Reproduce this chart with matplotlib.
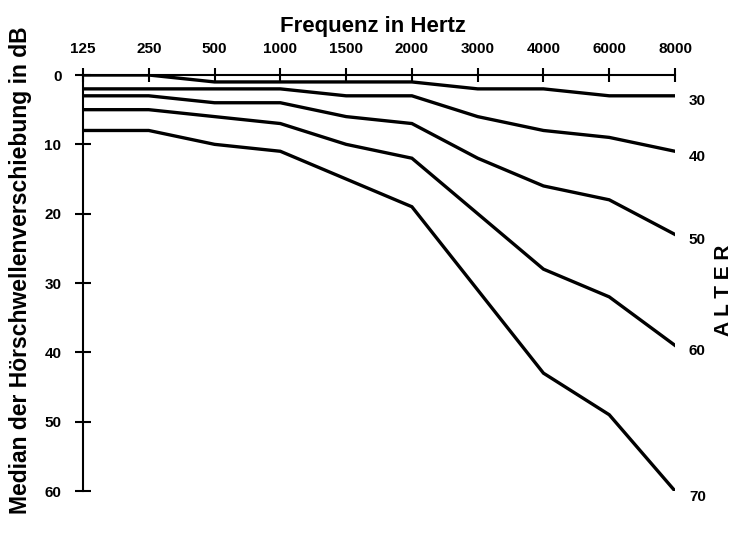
import matplotlib.pyplot as plt

plt.rcParams['font.family'] = ['Liberation Sans', 'DejaVu Sans']
plt.rcParams['font.weight'] = 'bold'

# frequencies (equally spaced categories)
freqs = ['125', '250', '500', '1000', '1500', '2000', '3000', '4000', '6000', '8000']
ages = ['30', '40', '50', '60', '70']

# median threshold shift in dB per age group
shift_30 = [0, 0, 1, 1, 1, 1, 2, 2, 3, 3]
shift_40 = [2, 2, 2, 2, 3, 3, 6, 8, 9, 11]
shift_50 = [3, 3, 4, 4, 6, 7, 12, 16, 18, 23]
shift_60 = [5, 5, 6, 7, 10, 12, 20, 28, 32, 39]
shift_70 = [8, 8, 10, 11, 15, 19, 31, 43, 49, 60]
series = [shift_30, shift_40, shift_50, shift_60, shift_70]

fig = plt.figure(figsize=(7.35, 5.35), dpi=100)
ax = fig.add_axes([0.1129, 0.0822, 0.8055, 0.7776])

x = list(range(len(freqs)))
for age, vals in zip(ages, series):
    ax.plot(x, vals, color='black', lw=2.4, solid_joinstyle='miter')
    ax.annotate(age, (x[-1], vals[-1]), xytext=(10, -4), textcoords='offset points',
                ha='left', va='center', fontsize=11, fontweight='bold')

ax.set_xlim(0, 9)
ax.set_ylim(60, 0)
ax.set_xticks(x)
ax.set_xticklabels(freqs)
ax.set_yticks([0, 10, 20, 30, 40, 50, 60])

ax.xaxis.tick_top()
ax.xaxis.set_label_position('top')
ax.spines['bottom'].set_visible(False)
ax.spines['right'].set_visible(False)
ax.spines['top'].set_linewidth(1.5)
ax.spines['left'].set_linewidth(1.5)
ax.tick_params(axis='x', direction='inout', length=10, width=1.5, pad=9, labelsize=11)
ax.tick_params(axis='y', direction='inout', length=11, width=1.5, pad=10, labelsize=11)

ax.set_xlabel('Frequenz in Hertz', fontsize=16, fontweight='bold', labelpad=7)
ax.xaxis.label.set_x(0.49)
ax.set_ylabel('Median der Hörschwellenverschiebung in dB', fontsize=16.5,
              fontweight='bold', labelpad=9)
ax.yaxis.label.set_y(0.53)

fig.text(0.997, 0.458, 'A L T E R', rotation=90, ha='right', va='center',
         fontsize=15, fontweight='bold')

fig.savefig('out.png', dpi=100)
